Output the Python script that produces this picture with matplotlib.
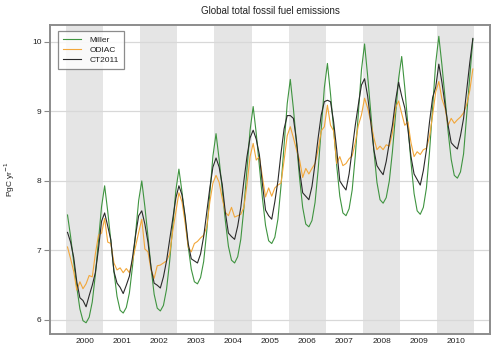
import matplotlib
matplotlib.use("Agg")
import matplotlib.pyplot as plt
import numpy as np

plt.rcParams['font.family'] = ['Liberation Sans', 'DejaVu Sans']

title = "Global total fossil fuel emissions"
ylabel = "PgC yr$^{-1}$"
years = list(range(2000, 2011))
series_names = ["Miller", "ODIAC", "CT2011"]

# monthly values, Jan 2000 .. Dec 2010
miller = [
    7.51, 7.20, 6.84, 6.47, 6.16, 5.99, 5.96, 6.04, 6.26, 6.65, 7.14, 7.63,
    7.93, 7.56, 7.14, 6.70, 6.34, 6.14, 6.10, 6.18, 6.39, 6.77, 7.24, 7.72,
    8.00, 7.63, 7.20, 6.75, 6.37, 6.17, 6.13, 6.21, 6.44, 6.84, 7.35, 7.86,
    8.17, 7.84, 7.46, 7.06, 6.73, 6.55, 6.52, 6.61, 6.84, 7.28, 7.82, 8.36,
    8.68, 8.31, 7.88, 7.43, 7.06, 6.86, 6.82, 6.91, 7.16, 7.61, 8.17, 8.73,
    9.07, 8.68, 8.22, 7.75, 7.36, 7.14, 7.10, 7.19, 7.45, 7.93, 8.52, 9.11,
    9.46, 9.04, 8.55, 8.04, 7.62, 7.38, 7.34, 7.43, 7.69, 8.16, 8.75, 9.34,
    9.69, 9.25, 8.75, 8.22, 7.78, 7.54, 7.50, 7.60, 7.87, 8.36, 8.98, 9.60,
    9.97, 9.51, 8.99, 8.44, 7.98, 7.73, 7.68, 7.76, 8.00, 8.42, 8.95, 9.47,
    9.79, 9.34, 8.81, 8.27, 7.82, 7.57, 7.52, 7.62, 7.90, 8.42, 9.06, 9.70,
    10.08, 9.67, 9.20, 8.71, 8.31, 8.08, 8.04, 8.13, 8.39, 8.95, 9.50, 10.04,
]

odiac = [
    7.05, 6.88, 6.70, 6.43, 6.55, 6.45, 6.52, 6.64, 6.62, 6.95, 7.22, 7.25,
    7.46, 7.12, 7.10, 6.82, 6.72, 6.75, 6.68, 6.74, 6.68, 6.85, 7.06, 7.26,
    7.45, 7.02, 6.98, 6.72, 6.60, 6.78, 6.79, 6.82, 6.85, 6.95, 7.28, 7.55,
    7.83, 7.70, 7.40, 7.05, 6.98, 7.10, 7.13, 7.18, 7.22, 7.34, 7.70, 7.97,
    8.08, 7.98, 7.75, 7.55, 7.50, 7.62, 7.48, 7.50, 7.52, 7.62, 7.95, 8.35,
    8.54, 8.30, 8.35, 8.05, 7.77, 7.90, 7.78, 7.90, 7.94, 7.97, 8.30, 8.65,
    8.78, 8.62, 8.45, 8.30, 8.05, 8.18, 8.10, 8.18, 8.25, 8.45, 8.72, 8.78,
    9.09, 8.80, 8.72, 8.25, 8.35, 8.22, 8.25, 8.32, 8.36, 8.55, 8.80, 8.95,
    9.19, 9.05, 8.85, 8.62, 8.45, 8.50, 8.45, 8.52, 8.50, 8.69, 9.05, 9.15,
    8.97, 8.80, 8.85, 8.55, 8.35, 8.42, 8.38, 8.45, 8.47, 8.64, 8.95, 9.28,
    9.43, 9.18, 9.05, 8.80, 8.90, 8.83, 8.88, 8.92, 8.98, 9.10, 9.30, 9.61,
]

ct2011 = [
    7.26, 7.12, 6.90, 6.55, 6.32, 6.28, 6.19, 6.35, 6.50, 6.68, 7.02, 7.42,
    7.54, 7.35, 7.15, 6.70, 6.53, 6.47, 6.38, 6.50, 6.63, 6.90, 7.22, 7.50,
    7.57, 7.38, 7.12, 6.75, 6.53, 6.50, 6.46, 6.62, 6.85, 7.15, 7.45, 7.75,
    7.93, 7.80, 7.50, 7.10, 6.88, 6.85, 6.82, 6.95, 7.20, 7.55, 7.90, 8.20,
    8.33, 8.20, 7.95, 7.55, 7.25, 7.20, 7.16, 7.35, 7.62, 8.00, 8.35, 8.62,
    8.73, 8.60, 8.38, 7.95, 7.58, 7.50, 7.45, 7.70, 8.00, 8.40, 8.75, 8.94,
    8.94, 8.90, 8.58, 8.15, 7.83, 7.78, 7.73, 7.92, 8.25, 8.62, 8.95, 9.14,
    9.16, 9.14, 8.85, 8.45, 8.00, 7.93, 7.87, 8.10, 8.45, 8.80, 9.10, 9.38,
    9.47, 9.22, 8.85, 8.45, 8.22, 8.15, 8.09, 8.28, 8.55, 8.80, 9.15, 9.42,
    9.22, 9.05, 8.75, 8.35, 8.10, 8.02, 7.94, 8.15, 8.45, 8.85, 9.20, 9.35,
    9.68, 9.42, 9.10, 8.80, 8.55, 8.50, 8.46, 8.65, 8.90, 9.30, 9.70, 10.05,
]

yticks = [6, 7, 8, 9, 10]

n = len(miller)
t = years[0] + (np.arange(n) + 0.5) / 12.0

fig = plt.figure(figsize=(5.0, 3.5), dpi=100)
ax = fig.add_axes([0.10, 0.046, 0.88, 0.883])

for y in years:
    if (y - years[0]) % 2 == 0:
        ax.axvspan(y, y + 1, color='#e5e5e5', lw=0, zorder=0)

for v in yticks:
    ax.axhline(v, color='#d8d8d8', lw=0.9, zorder=1)

colors = ['#3f9440', '#f2a73a', '#2a2a2a']
for name, vals, c in zip(series_names, [miller, odiac, ct2011], colors):
    ax.plot(t, vals, color=c, lw=0.8, label=name, zorder=3)

ax.set_xlim(1999.57, 2011.42)
ax.set_ylim(5.80, 10.245)
ax.set_yticks(yticks)
ax.set_yticklabels([str(v) for v in yticks])
ax.set_xticks([y + 0.5 for y in years])
ax.set_xticklabels([str(y) for y in years])
ax.tick_params(axis='x', length=0, pad=3, labelsize=6, colors='#222222')
ax.tick_params(axis='y', length=4, width=0.8, color='#888888', pad=2,
               labelsize=6, labelcolor='#222222')
for s in ax.spines.values():
    s.set_color('#8c8c8c')
    s.set_linewidth(1.4)

ax.set_ylabel(ylabel, fontsize=6, color='#222222')
ax.yaxis.set_label_coords(-0.075, 0.5)
ax.set_title(title, fontsize=7, color='#222222', pad=8)

leg = ax.legend(loc='upper left', bbox_to_anchor=(0.018, 0.98), borderaxespad=0,
                fontsize=6, frameon=True, fancybox=False, handlelength=2.2,
                handletextpad=1.0, borderpad=0.6, labelspacing=0.25)
leg.get_frame().set_edgecolor('#707070')
leg.get_frame().set_linewidth(0.9)
for txt in leg.get_texts():
    txt.set_color('#222222')

fig.savefig('out.png', dpi=100)
